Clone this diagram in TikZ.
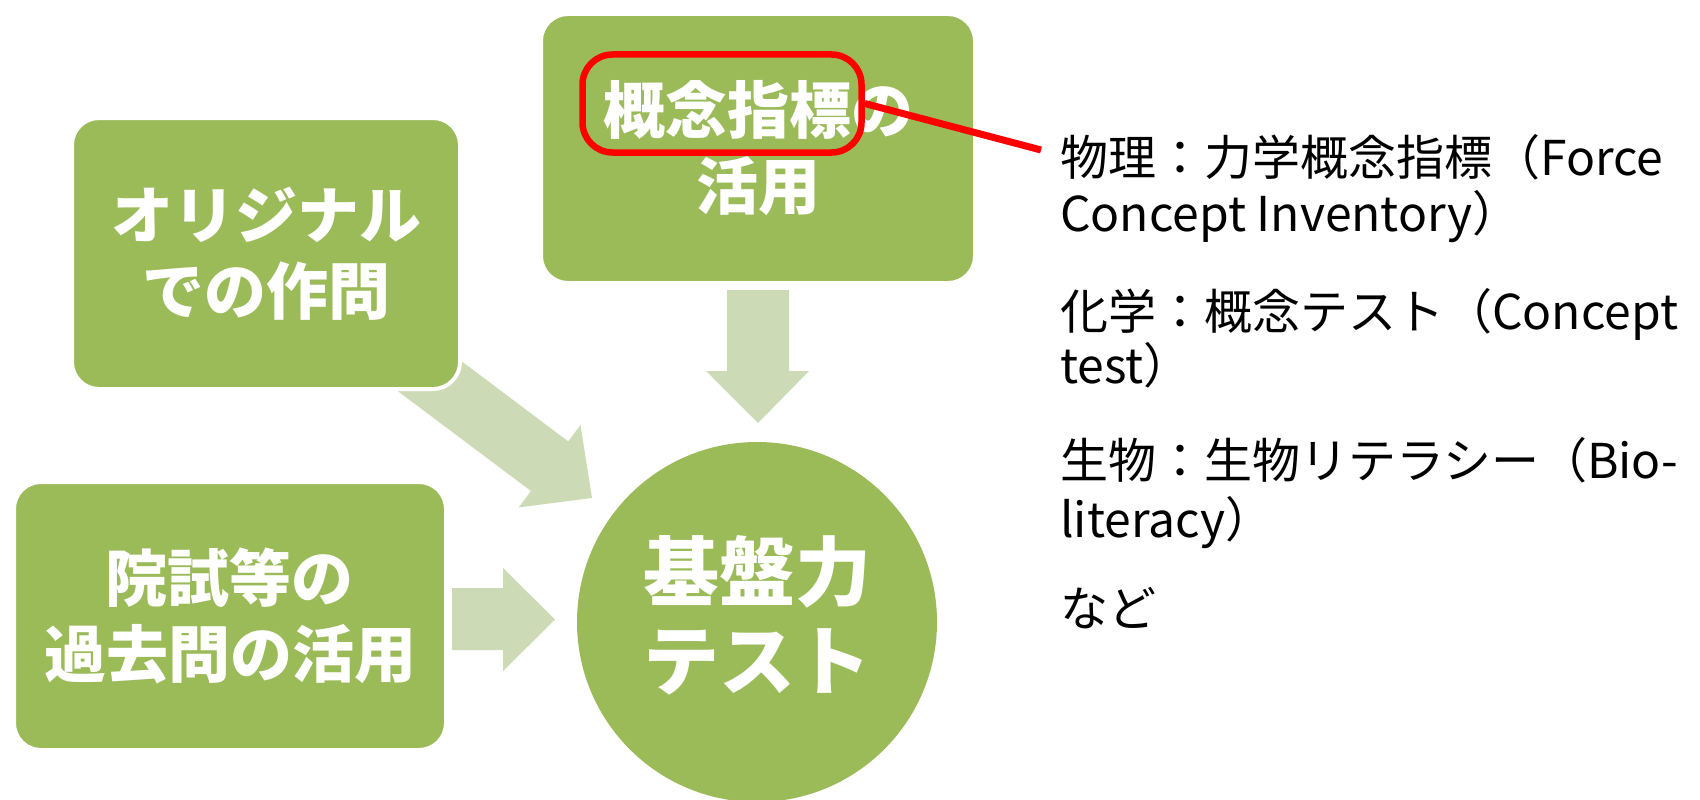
\documentclass[tikz,border=0pt]{standalone}
\usepackage{fontspec}
\newfontfamily\jp{Noto Sans CJK JP}
\definecolor{boxgreen}{HTML}{9BBB59}
\definecolor{arrowgreen}{HTML}{CDDAB6}
\begin{document}
\begin{tikzpicture}[x=1pt,y=-1pt,
  box/.style={draw=white, line width=4pt, fill=boxgreen, rounded corners=27pt, text=white,
    font=\jp\bfseries\fontsize{62}{76}\selectfont, align=center, inner sep=0pt},
  blockarrow/.style={fill=arrowgreen, draw=none},
  listtext/.style={anchor=base west, inner sep=0pt, font=\jp\fontsize{48}{57}\selectfont, text=black},
  marker/.style={draw=red, line width=6.5pt, rounded corners=30pt, inner sep=0pt},
]
\useasboundingbox (0,0) rectangle (1700,800);
% block arrows
\fill[blockarrow] (727,290) -- (789,290) -- (789,371) -- (809,371) -- (758,423) -- (706,371) -- (727,371) -- cycle;
\fill[blockarrow] (452,588) -- (503,588) -- (503,568) -- (555,619.5) -- (503,671) -- (503,650) -- (452,650) -- cycle;
\fill[blockarrow] (387,383) -- (531,491) -- (518.7,507.4) -- (592,498) -- (580.5,425) -- (568.2,441.4) -- (424,333) -- cycle;
% boxes
\node[box, minimum width=434pt, minimum height=269pt] (top) at (758,148.5) {概念指標の\\活用};
\node[box, minimum width=388pt, minimum height=271pt] (orig) at (266,253.5) {オリジナル\\での作問};
\node[box, minimum width=432pt, minimum height=268pt] (past) at (230,616) {院試等の\\過去問の活用};
\node[circle, fill=boxgreen, minimum size=360pt, inner sep=0pt] (base) at (757,622) {};
\node[text=white, font=\jp\bfseries\fontsize{76}{89}\selectfont, align=center, inner sep=0pt] (basetext) at (757,615) {基盤力\\テスト};
% red marker
\node[marker, minimum width=279pt, minimum height=98pt] (redbox) at (722,103.5) {};
\coordinate (noteend) at (1041,150);
\draw[red, line width=7pt] (redbox.east) -- (noteend);
% list
\node[listtext] (l1) at (1060,175) {物理：力学概念指標（Force};
\node[listtext] (l2) at (1060,231) {Concept Inventory）};
\node[listtext] (l3) at (1060,329) {化学：概念テスト（Concept};
\node[listtext] (l4) at (1060,383) {test）};
\node[listtext] (l5) at (1060,478) {生物：生物リテラシー（Bio-};
\node[listtext] (l6) at (1060,537) {literacy）};
\node[listtext] (l7) at (1060,626) {など};
\end{tikzpicture}
\end{document}
